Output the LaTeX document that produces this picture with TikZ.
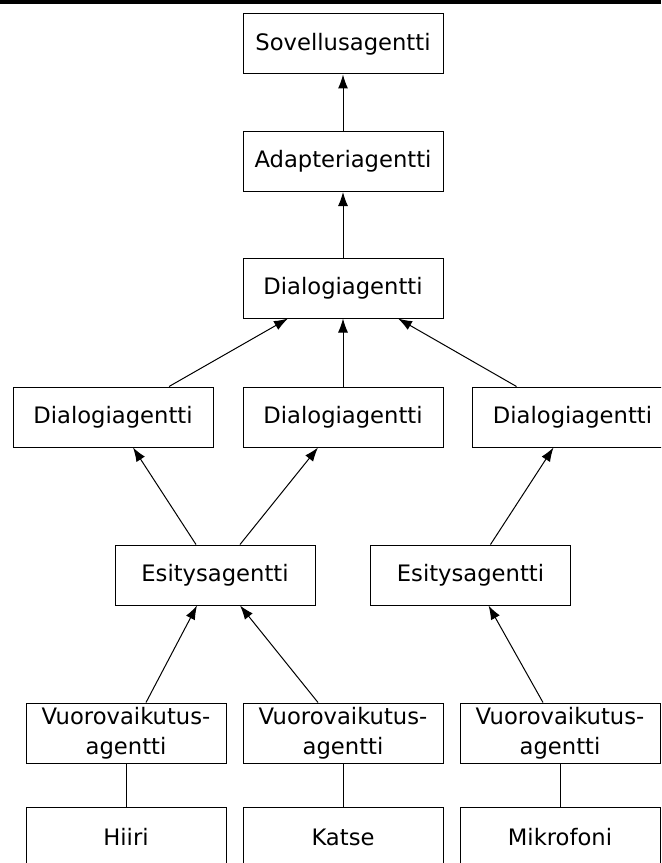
\documentclass[tikz,border=0pt]{standalone}
\usepackage{fontspec}
\setmainfont{DejaVu Sans}
\usetikzlibrary{arrows.meta,calc}
\begin{document}
\begin{tikzpicture}[x=0.75pt,y=-0.75pt,
  agent/.style={draw, line width=0.75pt, minimum width=150pt, minimum height=45pt,
    inner sep=0pt, align=center, font=\fontsize{17}{22.5}\selectfont},
  link/.style={line width=0.75pt},
  uses/.style={link, -{Latex[length=10.5pt,width=7.5pt]}}]
\clip (0,0) rectangle (661,863);
% heading rule
\fill (0,0) rectangle (661,4);

% agent hierarchy
\node[agent] (S)  at (343,44)    {Sovellusagentti};
\node[agent] (A)  at (343,161.5) {Adapteriagentti};
\node[agent] (D0) at (343,288)   {Dialogiagentti};
\node[agent] (D1) at (113,417)   {Dialogiagentti};
\node[agent] (D2) at (343,417)   {Dialogiagentti};
\node[agent] (D3) at (572.5,417) {Dialogiagentti};
\node[agent] (E1) at (215,575)   {Esitysagentti};
\node[agent] (E2) at (470.5,575) {Esitysagentti};
\node[agent] (V1) at (126,733)   {Vuorovaikutus-\\agentti};
\node[agent] (V2) at (343,733)   {Vuorovaikutus-\\agentti};
\node[agent] (V3) at (560,733)   {Vuorovaikutus-\\agentti};
\node[agent] (B1) at (126,837)   {Hiiri};
\node[agent] (B2) at (343,837)   {Katse};
\node[agent] (B3) at (560,837)   {Mikrofoni};

% connectors
\draw[uses] (A.north) -- (S.south);
\draw[uses] (D0.north) -- (A.south);
\draw[uses] ($(D1.north)+(56,0)$) -- ($(D0.south)+(-55,0)$);
\draw[uses] (D2.north) -- (D0.south);
\draw[uses] ($(D3.north)+(-56,0)$) -- ($(D0.south)+(55,0)$);
\draw[uses] ($(E1.north)+(-19,0)$) -- ($(D1.south)+(20,0)$);
\draw[uses] ($(E1.north)+(25,0)$) -- ($(D2.south)+(-25,0)$);
\draw[uses] ($(E2.north)+(20,0)$) -- ($(D3.south)+(-19,0)$);
\draw[uses] ($(V1.north)+(20,0)$) -- ($(E1.south)+(-18,0)$);
\draw[uses] ($(V2.north)+(-25,0)$) -- ($(E1.south)+(25,0)$);
\draw[uses] ($(V3.north)+(-17,0)$) -- ($(E2.south)+(18,0)$);
\draw[link] (V1.south) -- (B1.north);
\draw[link] (V2.south) -- (B2.north);
\draw[link] (V3.south) -- (B3.north);
\end{tikzpicture}
\end{document}
